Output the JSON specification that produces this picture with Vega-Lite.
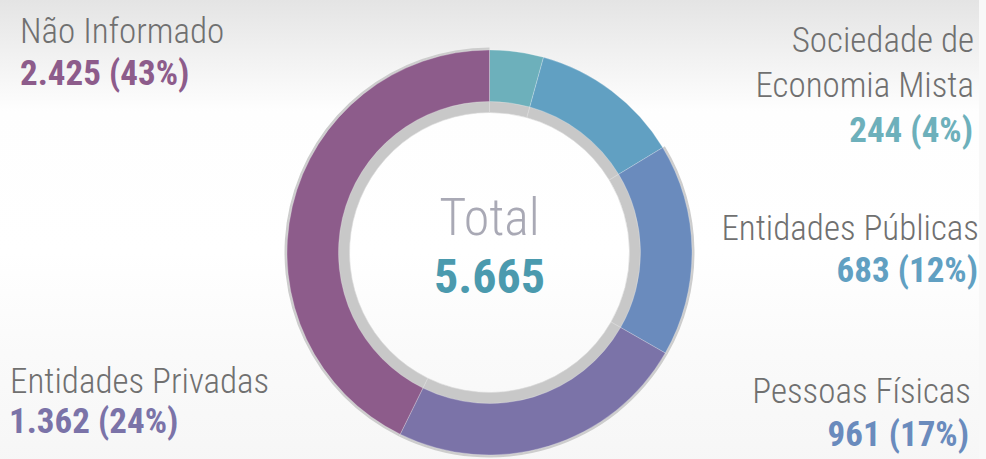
{
  "$schema": "https://vega.github.io/schema/vega-lite/v6.json",
  "autosize": "none",
  "width": 979,
  "height": 505,
  "padding": {"left": 0, "top": 0, "right": 7, "bottom": 0},
  "background": "#f8f8f8",
  "config": {
    "view": {
      "stroke": null,
      "fill": {
        "gradient": "linear", "x1": 0, "y1": 0, "x2": 0, "y2": 1,
        "stops": [
          {"offset": 0, "color": "#e4e4e4"},
          {"offset": 0.1, "color": "#f0f0f0"},
          {"offset": 0.22, "color": "#fefefe"},
          {"offset": 0.5, "color": "#ffffff"},
          {"offset": 0.7, "color": "#fafafa"},
          {"offset": 1, "color": "#f5f5f5"}
        ]
      }
    }
  },
  "data": {
    "values": [
      {"idx": 1, "category": "Sociedade de Economia Mista", "name": "Sociedade de\nEconomia Mista", "value": 244, "label": "244 (4%)"},
      {"idx": 2, "category": "Entidades Públicas", "name": "Entidades Públicas", "value": 683, "label": "683 (12%)"},
      {"idx": 3, "category": "Pessoas Físicas", "name": "Pessoas Físicas", "value": 961, "label": "961 (17%)"},
      {"idx": 4, "category": "Entidades Privadas", "name": "Entidades Privadas", "value": 1362, "label": "1.362 (24%)"},
      {"idx": 5, "category": "Não Informado", "name": "Não Informado", "value": 2425, "label": "2.425 (43%)"}
    ]
  },
  "layer": [
    {
      "mark": {"type": "arc", "outerRadius": 205, "innerRadius": 150, "color": "#cdcdcd"},
      "encoding": {
        "theta": {"field": "value", "type": "quantitative", "stack": true},
        "order": {"field": "idx", "type": "quantitative"},
        "opacity": {"condition": {"test": "datum.idx >= 3", "value": 1}, "value": 0}
      }
    },
    {
      "mark": {"type": "arc", "outerRadius": 152, "innerRadius": 140, "color": "#c8c8c8", "stroke": "#dadada", "strokeWidth": 0.6},
      "encoding": {
        "theta": {"field": "value", "type": "quantitative", "stack": true},
        "order": {"field": "idx", "type": "quantitative"}
      }
    },
    {
      "mark": {"type": "arc", "outerRadius": 202.5, "innerRadius": 151, "stroke": "#ffffff", "strokeWidth": 0.4, "strokeOpacity": 0.6},
      "encoding": {
        "theta": {"field": "value", "type": "quantitative", "stack": true},
        "order": {"field": "idx", "type": "quantitative"},
        "color": {
          "field": "category", "type": "nominal", "legend": null,
          "scale": {
            "domain": ["Sociedade de Economia Mista", "Entidades Públicas", "Pessoas Físicas", "Entidades Privadas", "Não Informado"],
            "range": ["#6db0bb", "#61a0c2", "#6a8bbd", "#7b73a8", "#8d5c8b"]
          }
        }
      }
    },
    {
      "transform": [{"filter": {"field": "category", "oneOf": ["Não Informado", "Entidades Privadas"]}}],
      "mark": {"type": "text", "align": "left", "baseline": "alphabetic", "font": "'Roboto Condensed', 'Liberation Sans Narrow', Roboto", "fontWeight": 300, "fontSize": 35, "color": "#707070"},
      "encoding": {
        "x": {"field": "category", "type": "nominal", "axis": null, "scale": {"type": "point", "domain": ["Não Informado", "Entidades Privadas"], "range": [20, 10], "padding": 0}},
        "y": {"field": "category", "type": "nominal", "axis": null, "scale": {"type": "point", "domain": ["Não Informado", "Entidades Privadas"], "range": [43, 393], "padding": 0}},
        "text": {"field": "name"}
      }
    },
    {
      "transform": [{"filter": {"field": "category", "oneOf": ["Não Informado", "Entidades Privadas"]}}],
      "mark": {"type": "text", "align": "left", "baseline": "alphabetic", "font": "'Roboto Condensed', 'Liberation Sans Narrow', Roboto", "fontWeight": "bold", "fontSize": 35},
      "encoding": {
        "x": {"field": "category", "type": "nominal", "axis": null, "scale": {"type": "point", "domain": ["Não Informado", "Entidades Privadas"], "range": [20, 9], "padding": 0}},
        "y": {"field": "category", "type": "nominal", "axis": null, "scale": {"type": "point", "domain": ["Não Informado", "Entidades Privadas"], "range": [85, 433], "padding": 0}},
        "text": {"field": "label"},
        "color": {"field": "category", "type": "nominal", "legend": null}
      }
    },
    {
      "transform": [{"filter": {"field": "category", "oneOf": ["Sociedade de Economia Mista", "Pessoas Físicas"]}}],
      "mark": {"type": "text", "align": "right", "baseline": "alphabetic", "lineBreak": "\n", "lineHeight": 45, "font": "'Roboto Condensed', 'Liberation Sans Narrow', Roboto", "fontWeight": 300, "fontSize": 35, "color": "#707070"},
      "encoding": {
        "x": {"field": "category", "type": "nominal", "axis": null, "scale": {"type": "point", "domain": ["Sociedade de Economia Mista", "Pessoas Físicas"], "range": [974, 971], "padding": 0}},
        "y": {"field": "category", "type": "nominal", "axis": null, "scale": {"type": "point", "domain": ["Sociedade de Economia Mista", "Pessoas Físicas"], "range": [52, 403], "padding": 0}},
        "text": {"field": "name"}
      }
    },
    {
      "transform": [{"filter": {"field": "category", "equal": "Entidades Públicas"}}],
      "mark": {"type": "text", "align": "right", "baseline": "alphabetic", "font": "'Roboto Condensed', 'Liberation Sans Narrow', Roboto", "fontWeight": 300, "fontSize": 35, "color": "#707070"},
      "encoding": {
        "x": {"field": "category", "type": "nominal", "axis": null, "scale": {"type": "point", "domain": ["Entidades Públicas"], "range": [979, 979], "padding": 0}},
        "y": {"field": "category", "type": "nominal", "axis": null, "scale": {"type": "point", "domain": ["Entidades Públicas"], "range": [240, 240], "padding": 0}},
        "text": {"field": "name"}
      }
    },
    {
      "transform": [{"filter": {"field": "category", "oneOf": ["Sociedade de Economia Mista", "Pessoas Físicas"]}}],
      "mark": {"type": "text", "align": "right", "baseline": "alphabetic", "font": "'Roboto Condensed', 'Liberation Sans Narrow', Roboto", "fontWeight": "bold", "fontSize": 35},
      "encoding": {
        "x": {"field": "category", "type": "nominal", "axis": null, "scale": {"type": "point", "domain": ["Sociedade de Economia Mista", "Pessoas Físicas"], "range": [973, 969], "padding": 0}},
        "y": {"field": "category", "type": "nominal", "axis": null, "scale": {"type": "point", "domain": ["Sociedade de Economia Mista", "Pessoas Físicas"], "range": [142, 446], "padding": 0}},
        "text": {"field": "label"},
        "color": {"field": "category", "type": "nominal", "legend": null}
      }
    },
    {
      "transform": [{"filter": {"field": "category", "equal": "Entidades Públicas"}}],
      "mark": {"type": "text", "align": "right", "baseline": "alphabetic", "font": "'Roboto Condensed', 'Liberation Sans Narrow', Roboto", "fontWeight": "bold", "fontSize": 35},
      "encoding": {
        "x": {"field": "category", "type": "nominal", "axis": null, "scale": {"type": "point", "domain": ["Entidades Públicas"], "range": [978, 978], "padding": 0}},
        "y": {"field": "category", "type": "nominal", "axis": null, "scale": {"type": "point", "domain": ["Entidades Públicas"], "range": [282, 282], "padding": 0}},
        "text": {"field": "label"},
        "color": {"field": "category", "type": "nominal", "legend": null}
      }
    },
    {
      "data": {"values": [{"title": "Total", "total": "5.665"}]},
      "mark": {"type": "text", "align": "center", "baseline": "alphabetic", "font": "'Roboto Condensed', 'Liberation Sans Narrow', Roboto", "fontWeight": 300, "fontSize": 52, "color": "#a9a9b5", "dy": -17.5},
      "encoding": {"text": {"field": "title"}}
    },
    {
      "data": {"values": [{"title": "Total", "total": "5.665"}]},
      "mark": {"type": "text", "align": "center", "baseline": "alphabetic", "font": "'Roboto Condensed', 'Liberation Sans Narrow', Roboto", "fontWeight": "bold", "fontSize": 48, "color": "#4b9aae", "dy": 40.5},
      "encoding": {"text": {"field": "total"}}
    }
  ],
  "resolve": {"scale": {"x": "independent", "y": "independent"}}
}
